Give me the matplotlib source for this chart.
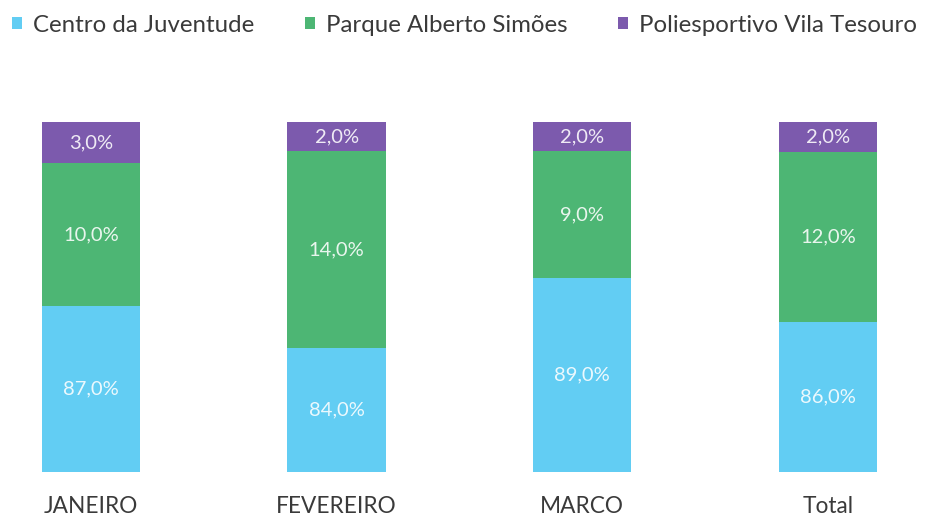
import matplotlib
matplotlib.use("Agg")
import matplotlib.pyplot as plt
import numpy as np
from matplotlib.patches import Patch

categories = ["JANEIRO", "FEVEREIRO", "MARCO", "Total"]
series_names = ["Centro da Juventude", "Parque Alberto Simões", "Poliesportivo Vila Tesouro"]

# share of bar height taken by each segment
centro_share = [47.4, 35.4, 55.4, 42.9]
parque_share = [40.9, 56.3, 36.3, 48.6]
polie_share = [11.7, 8.3, 8.3, 8.5]

# printed data labels
centro_labels = ["87,0%", "84,0%", "89,0%", "86,0%"]
parque_labels = ["10,0%", "14,0%", "9,0%", "12,0%"]
polie_labels = ["3,0%", "2,0%", "2,0%", "2,0%"]

colors = ["#62CDF3", "#4DB674", "#7C5AAD"]

plt.rcParams["font.family"] = ["Lato", "DejaVu Sans"]

fig = plt.figure(figsize=(9.26, 5.2), dpi=100)
ax = fig.add_axes([0, 0.0923, 1, 0.6731])

x = np.arange(len(categories))
shares = [centro_share, parque_share, polie_share]
labels = [centro_labels, parque_labels, polie_labels]
bottom = np.zeros(len(categories))

for name, share, lab, color in zip(series_names, shares, labels, colors):
    vals = np.array(share)
    ax.bar(x, vals, width=0.40, bottom=bottom, color=color, label=name)
    for xi, b, v, t in zip(x, bottom, vals, lab):
        ax.text(xi, b + v / 2, t, ha="center", va="center",
                color="white", alpha=0.88, fontsize=14.5)
    bottom += vals

ax.set_xlim(-91 / 245.6, (926 - 91) / 245.6)
ax.set_ylim(0, 100)
ax.set_xticks(x)
ax.set_xticklabels(categories, fontsize=16.3, color="#3a3a3a")
ax.tick_params(axis="x", length=0, pad=17)
ax.set_yticks([])
for spine in ax.spines.values():
    spine.set_visible(False)

handles = [Patch(facecolor=c, edgecolor="none") for c in colors]
fig.legend(handles, series_names, loc="upper left", bbox_to_anchor=(12 / 926, 0.972),
           ncol=3, frameon=False, fontsize=17.3, handlelength=0.42, handleheight=0.42,
           handletextpad=0.46, columnspacing=2.1, labelcolor="#3a3a3a",
           borderaxespad=0, borderpad=0)

fig.savefig("out.png", dpi=100)
